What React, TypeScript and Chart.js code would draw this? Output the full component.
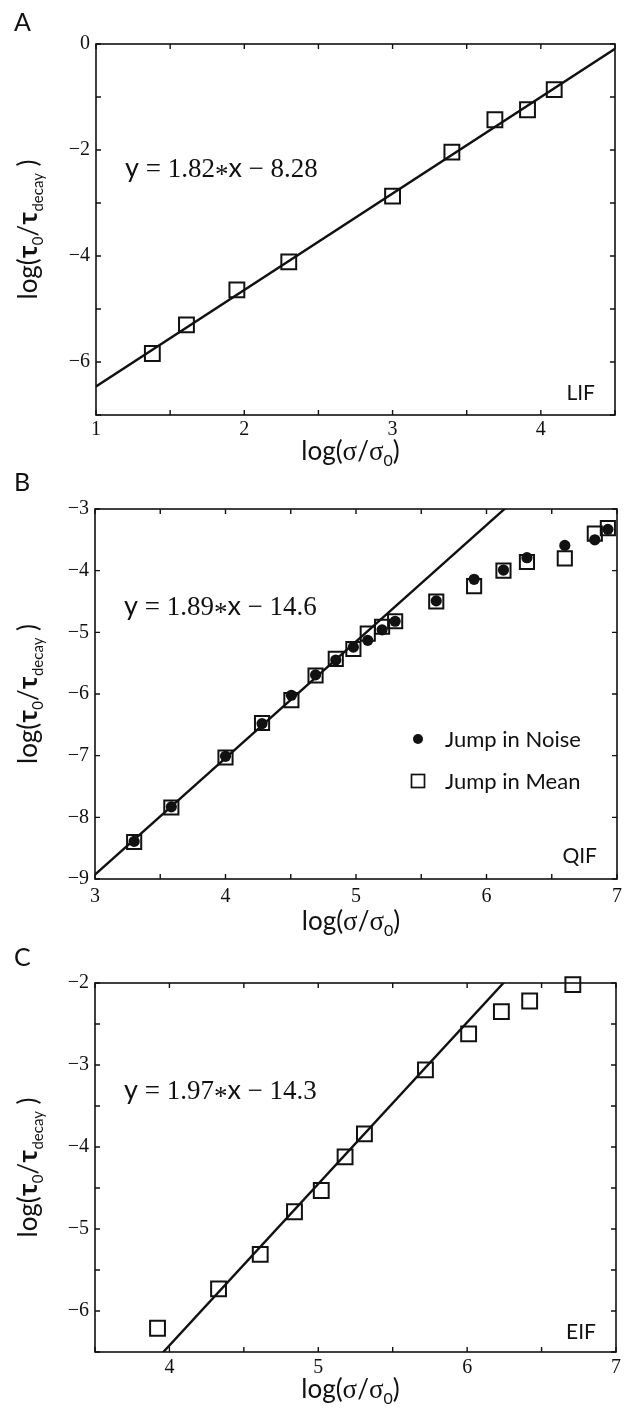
import React, { useEffect, useRef } from "react";
import { Chart, registerables } from "chart.js";

Chart.register(...registerables);

// ---------- Data ----------
// Panel A (LIF)
const X_A = [1.38, 1.61, 1.95, 2.3, 3.0, 3.4, 3.69, 3.91, 4.09];
const Y_A = [-5.84, -5.3, -4.64, -4.11, -2.87, -2.04, -1.43, -1.24, -0.86];
const SLOPE_A = 1.82;
const INTERCEPT_A = -8.28;

// Panel B (QIF)
const X_B = [3.3, 3.585, 4.0, 4.28, 4.505, 4.69, 4.845, 4.98, 5.09, 5.2, 5.3, 5.615, 5.905, 6.13, 6.31, 6.6, 6.83, 6.93];
const Y_B_NOISE = [-8.39, -7.83, -7.01, -6.48, -6.02, -5.69, -5.45, -5.24, -5.13, -4.96, -4.82, -4.49, -4.14, -3.99, -3.79, -3.59, -3.5, -3.33];
const Y_B_MEAN = [-8.4, -7.84, -7.03, -6.47, -6.1, -5.7, -5.43, -5.27, -5.02, -4.91, -4.82, -4.5, -4.25, -4.0, -3.86, -3.8, -3.4, -3.31];
const SLOPE_B = 1.89;
const INTERCEPT_B = -14.6;

// Panel C (EIF)
const X_C = [3.92, 4.33, 4.61, 4.84, 5.02, 5.18, 5.31, 5.72, 6.01, 6.23, 6.42, 6.71];
const Y_C = [-6.21, -5.73, -5.31, -4.79, -4.53, -4.12, -3.84, -3.06, -2.62, -2.35, -2.22, -2.02];
const SLOPE_C = 1.97;
const INTERCEPT_C = -14.3;

const LEGEND_LABELS = ["Jump in Noise", "Jump in Mean"];

// ---------- Styling ----------
const W = 629;
const SANS = "Lato, 'Open Sans', 'DejaVu Sans', sans-serif";
const SERIF = "'Liberation Serif', 'Times New Roman', serif";
const GREEK = "'Noto Sans', 'DejaVu Sans', sans-serif";
const INK = "#111111";

type Run = { t: string; font: string; dy?: number };

function runsWidth(ctx: CanvasRenderingContext2D, runs: Run[]) {
  let w = 0;
  for (const r of runs) {
    ctx.font = r.font;
    w += ctx.measureText(r.t).width;
  }
  return w;
}

function drawRuns(ctx: CanvasRenderingContext2D, runs: Run[], x: number, y: number, align: "left" | "center" | "right") {
  ctx.save();
  ctx.textBaseline = "alphabetic";
  ctx.textAlign = "left";
  ctx.fillStyle = INK;
  const total = runsWidth(ctx, runs);
  let cx = align === "left" ? x : align === "center" ? x - total / 2 : x - total;
  for (const r of runs) {
    ctx.font = r.font;
    ctx.fillText(r.t, cx, y + (r.dy || 0));
    cx += ctx.measureText(r.t).width;
  }
  ctx.restore();
}

const fmtNum = (v: number) => {
  const r = Math.round(v);
  return r < 0 ? "\u2212" + Math.abs(r) : String(r);
};
const isInt = (v: number) => Math.abs(v - Math.round(v)) < 1e-6;

function eqRuns(slope: number, intercept: number): Run[] {
  const f = 27;
  return [
    { t: "y", font: `${f}px ${SANS}` },
    { t: " = ", font: `${f}px ${SERIF}` },
    { t: slope.toFixed(2), font: `${f}px ${SERIF}` },
    { t: "*", font: `${f}px ${SERIF}`, dy: 6 },
    { t: "x", font: `${f}px ${SANS}` },
    { t: intercept < 0 ? " \u2212 " : " + ", font: `${f}px ${SERIF}` },
    { t: String(Math.abs(intercept)), font: `${f}px ${SERIF}` },
  ];
}

const X_TITLE: Run[] = [
  { t: "log(", font: `26px ${SANS}` },
  { t: "\u03c3", font: `27px ${SERIF}` },
  { t: "/", font: `26px ${SANS}` },
  { t: "\u03c3", font: `27px ${SERIF}` },
  { t: "0", font: `16px ${SANS}`, dy: 6 },
  { t: ")", font: `26px ${SANS}` },
];

const Y_TITLE: Run[] = [
  { t: "log(", font: `26px ${SANS}` },
  { t: "\u03c4", font: `600 25px ${GREEK}` },
  { t: "0", font: `15px ${SANS}`, dy: 6 },
  { t: "/", font: `26px ${SANS}` },
  { t: "\u03c4", font: `600 25px ${GREEK}` },
  { t: "decay", font: `15px ${SANS}`, dy: 6 },
  { t: " )", font: `26px ${SANS}` },
];

const decoPlugin = {
  id: "panelDeco",
  afterDraw(chart: any) {
    const o = chart.options.plugins.panelDeco;
    if (!o) return;
    const ctx: CanvasRenderingContext2D = chart.ctx;
    const { left, right, top, bottom } = chart.chartArea;
    ctx.save();
    // frame
    ctx.strokeStyle = INK;
    ctx.lineWidth = 1.6;
    ctx.strokeRect(left, top, right - left, bottom - top);
    // inward ticks on all sides
    ctx.lineWidth = 1.4;
    const tl = 5;
    const xs = chart.scales.x;
    const ys = chart.scales.y;
    ctx.beginPath();
    for (const t of xs.ticks) {
      const p = xs.getPixelForValue(t.value);
      ctx.moveTo(p, bottom);
      ctx.lineTo(p, bottom - tl);
      ctx.moveTo(p, top);
      ctx.lineTo(p, top + tl);
    }
    for (const t of ys.ticks) {
      const p = ys.getPixelForValue(t.value);
      ctx.moveTo(left, p);
      ctx.lineTo(left + tl, p);
      ctx.moveTo(right, p);
      ctx.lineTo(right - tl, p);
    }
    ctx.stroke();
    ctx.restore();

    // panel letter
    drawRuns(ctx, [{ t: o.letter, font: `25px ${SANS}` }], 14, o.letterY, "left");
    // model label
    drawRuns(ctx, [{ t: o.model, font: `21px ${SANS}` }], right - 20, bottom - o.modelDy, "right");
    // equation
    drawRuns(ctx, o.eq, left + 29, top + o.eqDy, "left");
    // x title
    drawRuns(ctx, X_TITLE, (left + right) / 2 - 5, bottom + o.xTitleDy, "center");
    // y title (rotated)
    ctx.save();
    ctx.translate(37, (top + bottom) / 2);
    ctx.rotate(-Math.PI / 2);
    drawRuns(ctx, Y_TITLE, 0, 0, "center");
    ctx.restore();

    // legend
    if (o.legend) {
      const lx = left + 323;
      const y1 = top + 230;
      const y2 = top + 272;
      ctx.save();
      ctx.fillStyle = INK;
      ctx.beginPath();
      ctx.arc(lx, y1, 5, 0, Math.PI * 2);
      ctx.fill();
      ctx.strokeStyle = INK;
      ctx.lineWidth = 1.7;
      ctx.strokeRect(lx - 6.5, y2 - 6.5, 13, 13);
      ctx.restore();
      drawRuns(ctx, [{ t: LEGEND_LABELS[0], font: `22px ${SANS}` }], lx + 27, y1 + 8, "left");
      drawRuns(ctx, [{ t: LEGEND_LABELS[1], font: `22px ${SANS}` }], lx + 27, y2 + 8, "left");
    }
  },
};

type PanelSpec = {
  height: number;
  area: { left: number; right: number; top: number; bottom: number };
  xMin: number;
  xMax: number;
  yMin: number;
  yMax: number;
  yStep: number;
  yLabelEvery: number;
  xPad: number;
  datasets: any[];
  deco: any;
};

function fitLine(slope: number, intercept: number, xMin: number, xMax: number) {
  return {
    type: "scatter",
    data: [
      { x: xMin, y: slope * xMin + intercept },
      { x: xMax, y: slope * xMax + intercept },
    ],
    showLine: true,
    borderColor: INK,
    borderWidth: 2.4,
    pointRadius: 0,
    order: 2,
  };
}

function squares(xs: number[], ys: number[], r: number) {
  return {
    type: "scatter",
    data: xs.map((x, i) => ({ x, y: ys[i] })),
    pointStyle: "rect",
    pointRadius: r,
    borderColor: INK,
    borderWidth: 2,
    backgroundColor: "rgba(0,0,0,0)",
    clip: false,
    order: 1,
  };
}

function dots(xs: number[], ys: number[]) {
  return {
    type: "scatter",
    data: xs.map((x, i) => ({ x, y: ys[i] })),
    pointStyle: "circle",
    pointRadius: 5.6,
    borderWidth: 0,
    backgroundColor: INK,
    clip: false,
    order: 0,
  };
}

function makeConfig(p: PanelSpec): any {
  return {
    type: "scatter",
    data: { datasets: p.datasets },
    plugins: [decoPlugin],
    options: {
      responsive: false,
      maintainAspectRatio: false,
      animation: false,
      events: [],
      layout: { padding: { top: p.area.top, right: W - p.area.right, left: 0, bottom: 0 } },
      plugins: {
        legend: { display: false },
        tooltip: { enabled: false },
        panelDeco: p.deco,
      },
      scales: {
        x: {
          type: "linear",
          min: p.xMin,
          max: p.xMax,
          grid: { display: false, drawTicks: false },
          border: { display: false },
          ticks: {
            stepSize: 0.5,
            autoSkip: false,
            maxRotation: 0,
            padding: p.xPad,
            color: INK,
            font: { family: SERIF, size: 20 },
            callback: (v: number) => (isInt(v) ? fmtNum(v) : ""),
          },
          afterFit: (s: any) => {
            s.height = p.height - p.area.bottom;
          },
        },
        y: {
          type: "linear",
          min: p.yMin,
          max: p.yMax,
          grid: { display: false, drawTicks: false },
          border: { display: false },
          ticks: {
            stepSize: p.yStep,
            autoSkip: false,
            padding: 6,
            color: INK,
            font: { family: SERIF, size: 20 },
            callback: (v: number) =>
              isInt(v) && Math.round(v) % p.yLabelEvery === 0 ? fmtNum(v) : "",
          },
          afterFit: (s: any) => {
            s.width = p.area.left;
          },
        },
      },
    },
  };
}

const PANELS: PanelSpec[] = [
  {
    height: 470,
    area: { left: 96, right: 615, top: 44, bottom: 415 },
    xMin: 1,
    xMax: 4.5,
    yMin: -7,
    yMax: 0,
    yStep: 1,
    yLabelEvery: 2,
    xPad: 3,
    datasets: [fitLine(SLOPE_A, INTERCEPT_A, 1, 4.5), squares(X_A, Y_A, 10.5)],
    deco: { letter: "A", letterY: 31, model: "LIF", modelDy: 15, eq: eqRuns(SLOPE_A, INTERCEPT_A), eqDy: 133, xTitleDy: 45, legend: false },
  },
  {
    height: 470,
    area: { left: 95, right: 617, top: 39, bottom: 409 },
    xMin: 3,
    xMax: 7,
    yMin: -9,
    yMax: -3,
    yStep: 1,
    yLabelEvery: 1,
    xPad: 6,
    datasets: [fitLine(SLOPE_B, INTERCEPT_B, 3, 7), squares(X_B, Y_B_MEAN, 10), dots(X_B, Y_B_NOISE)],
    deco: { letter: "B", letterY: 21, model: "QIF", modelDy: 16, eq: eqRuns(SLOPE_B, INTERCEPT_B), eqDy: 106, xTitleDy: 51, legend: true },
  },
  {
    height: 468,
    area: { left: 95, right: 616, top: 43, bottom: 412 },
    xMin: 3.5,
    xMax: 7,
    yMin: -6.5,
    yMax: -2,
    yStep: 0.5,
    yLabelEvery: 1,
    xPad: 4,
    datasets: [fitLine(SLOPE_C, INTERCEPT_C, 3.5, 7), squares(X_C, Y_C, 10.5)],
    deco: { letter: "C", letterY: 26, model: "EIF", modelDy: 13, eq: eqRuns(SLOPE_C, INTERCEPT_C), eqDy: 116, xTitleDy: 46, legend: false },
  },
];

const TOPS = [0, 470, 940];

export default function App() {
  const r0 = useRef<HTMLCanvasElement>(null);
  const r1 = useRef<HTMLCanvasElement>(null);
  const r2 = useRef<HTMLCanvasElement>(null);

  useEffect(() => {
    const refs = [r0, r1, r2];
    const charts = PANELS.map((p, i) => new Chart(refs[i].current as HTMLCanvasElement, makeConfig(p)));
    return () => charts.forEach((c) => c.destroy());
  }, []);

  const refs = [r0, r1, r2];
  return (
    <div style={{ position: "absolute", left: 0, top: 0, width: W, height: 1408, background: "#fff" }}>
      {PANELS.map((p, i) => (
        <canvas
          key={i}
          ref={refs[i]}
          width={W}
          height={p.height}
          style={{ position: "absolute", left: 0, top: TOPS[i], width: W, height: p.height }}
        />
      ))}
    </div>
  );
}
